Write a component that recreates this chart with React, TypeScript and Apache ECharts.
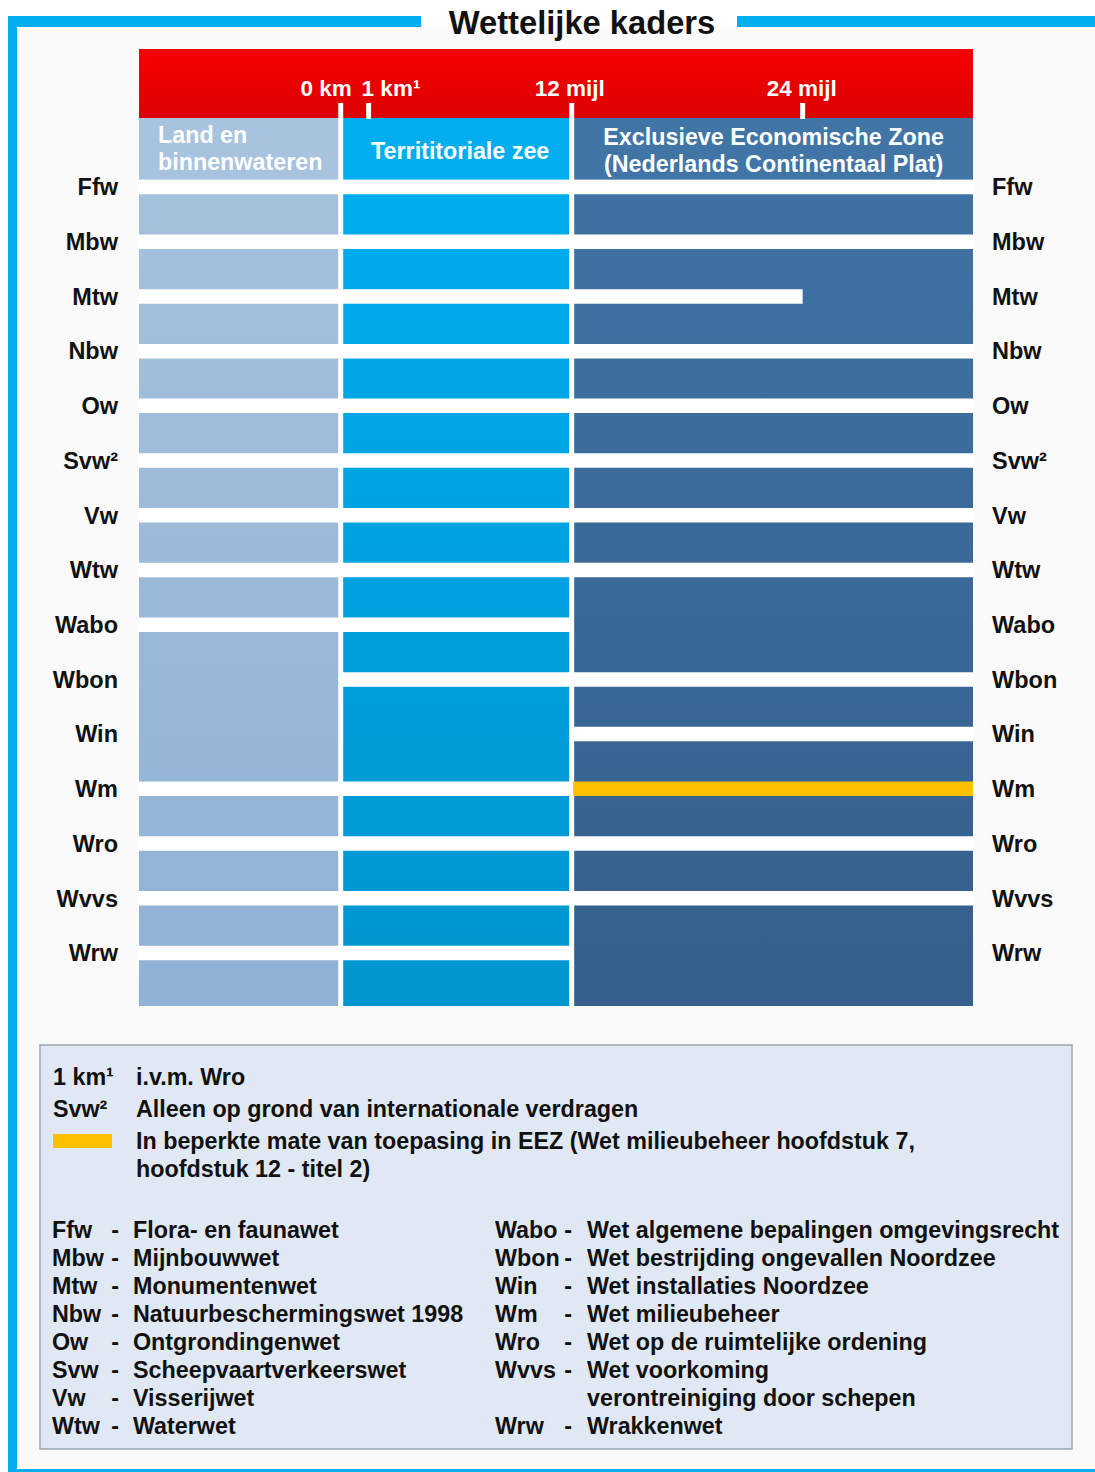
import React, { useEffect, useRef } from 'react';
import * as echarts from 'echarts';

// ---------- data ----------
const title = 'Wettelijke kaders';

const laws = ['Ffw', 'Mbw', 'Mtw', 'Nbw', 'Ow', 'Svw²', 'Vw', 'Wtw', 'Wabo', 'Wbon', 'Win', 'Wm', 'Wro', 'Wvvs', 'Wrw'];

const zoneNames = ['Land en\nbinnenwateren', 'Territitoriale zee', 'Exclusieve Economische Zone\n(Nederlands Continentaal Plat)'];
// schematic distance (nautical miles) of the zone limits
const zoneFrom = [-10.48, 0, 12];
const zoneTo = [0, 12, 32.85];

const markerLabels = ['0 km', '1 km¹', '12 mijl', '24 mijl'];
const markerValues = [0, 1.45, 12, 24];

// 1 = wet geldt in zone, 0 = niet
const appliesLand = [1, 1, 1, 1, 1, 1, 1, 1, 1, 0, 0, 1, 1, 1, 1];
const appliesSea = [1, 1, 1, 1, 1, 1, 1, 1, 1, 1, 0, 1, 1, 1, 1];
// EEZ: 'full', 'none', 'beperkt' or reach in mijl
const appliesEEZ: (number | string)[] = ['full', 'full', 24, 'full', 'full', 'full', 'full', 'full', 'none', 'full', 'full', 'beperkt', 'full', 'full', 'none'];

const noteKeys = ['1 km¹', 'Svw²', ''];
const noteTexts = ['i.v.m. Wro', 'Alleen op grond van internationale verdragen', 'In beperkte mate van toepasing in EEZ (Wet milieubeheer hoofdstuk 7,\nhoofdstuk 12 - titel 2)'];

const abbrLeft = ['Ffw', 'Mbw', 'Mtw', 'Nbw', 'Ow', 'Svw', 'Vw', 'Wtw'];
const nameLeft = ['Flora- en faunawet', 'Mijnbouwwet', 'Monumentenwet', 'Natuurbeschermingswet 1998', 'Ontgrondingenwet', 'Scheepvaartverkeerswet', 'Visserijwet', 'Waterwet'];
const abbrRight = ['Wabo', 'Wbon', 'Win', 'Wm', 'Wro', 'Wvvs', '', 'Wrw'];
const nameRight = ['Wet algemene bepalingen omgevingsrecht', 'Wet bestrijding ongevallen Noordzee', 'Wet installaties Noordzee', 'Wet milieubeheer', 'Wet op de ruimtelijke ordening', 'Wet voorkoming', 'verontreiniging door schepen', 'Wrakkenwet'];

// ---------- styles / layout ----------
const FONT = '"Liberation Sans", Arial, Helvetica, sans-serif';
const CYAN = '#00aeef';
const YELLOW = '#ffc000';
const zoneHeadColors = ['#a7c3de', '#00aeef', '#4175a6'];
const zoneTopColors = ['#a5c1dc', '#00adee', '#3f72a3'];
const zoneBottomColors = ['#91b2d5', '#0095cf', '#355f8c'];

const LABEL_SIZE = 23.5;
const HEAD_SIZE = 23.3;
const LEGEND_SIZE = 23.3;

const X_MIN = zoneFrom[0];
const X_MAX = zoneTo[2];
const Y_MIN = -2.523;
const Y_MAX = 14.97;
const HEAD_TOP = -1.262;
const HEAD_BOT = -0.1325;
const TICK_TOP = -1.536;
const LABEL_Y = -1.81;
const GAP_PX = 14.5;
const SEP_PX = 2.5;
const markerLabelStyle = [
  { align: 'right', dx: 11 },
  { align: 'left', dx: -7 },
  { align: 'center', dx: -2 },
  { align: 'center', dx: -1 },
];

// build data for the law gaps
const gapData: number[][] = [];
laws.forEach((_, i) => {
  if (appliesLand[i]) gapData.push([zoneFrom[0], zoneTo[0], i, 0]);
  if (appliesSea[i]) gapData.push([zoneFrom[1], zoneTo[1], i, 0]);
  const e = appliesEEZ[i];
  if (e === 'full') gapData.push([zoneFrom[2], zoneTo[2], i, 0]);
  else if (typeof e === 'number') gapData.push([zoneFrom[2], e, i, 0]);
  else if (e === 'beperkt') gapData.push([zoneFrom[2], zoneTo[2], i, 1]);
});

const txt = (text: string, x: number, y: number, size: number, extra: any = {}) => ({
  type: 'text',
  x,
  y,
  silent: true,
  style: {
    text,
    fill: '#111111',
    fontSize: size,
    fontWeight: 'bold',
    fontFamily: FONT,
    align: 'left',
    verticalAlign: 'middle',
    ...extra,
  },
});

function buildGraphic() {
  const els: any[] = [];
  // frame
  els.push({ type: 'rect', shape: { x: 0, y: 0, width: 8, height: 1472 }, style: { fill: '#ffffff' } });
  els.push({ type: 'rect', shape: { x: 8, y: 16, width: 413, height: 11 }, style: { fill: CYAN } });
  els.push({ type: 'rect', shape: { x: 737, y: 16, width: 358, height: 11 }, style: { fill: CYAN } });
  els.push({ type: 'rect', shape: { x: 8, y: 16, width: 9, height: 1456 }, style: { fill: CYAN } });
  els.push({ type: 'rect', shape: { x: 8, y: 1469, width: 1087, height: 3 }, style: { fill: CYAN } });
  els.push({ type: 'rect', shape: { x: 0, y: 0, width: 1095, height: 16 }, style: { fill: '#ffffff' } });
  els.push({ type: 'rect', shape: { x: 421, y: 16, width: 316, height: 11 }, style: { fill: '#ffffff' } });
  els.push(txt(title, 582, 22, 32.7, { align: 'center' }));

  // legend box
  els.push({ type: 'rect', shape: { x: 40, y: 1045, width: 1032, height: 404 }, style: { fill: '#dfe8f3', stroke: '#9ea6ae', lineWidth: 1.5 } });
  const noteY = [1077, 1109, 1141];
  noteKeys.forEach((k, i) => {
    if (k) els.push(txt(k, 53, noteY[i], LEGEND_SIZE));
    else els.push({ type: 'rect', shape: { x: 53, y: noteY[i] - 7, width: 59, height: 14 }, style: { fill: YELLOW } });
    noteTexts[i].split('\n').forEach((line, j) => {
      els.push(txt(line, 136, noteY[i] + j * 28, LEGEND_SIZE));
    });
  });
  abbrLeft.forEach((a, i) => {
    const y = 1230 + i * 28;
    els.push(txt(a, 52, y, LEGEND_SIZE));
    els.push(txt('-', 115, y, LEGEND_SIZE, { align: 'center' }));
    els.push(txt(nameLeft[i], 133, y, LEGEND_SIZE));
  });
  abbrRight.forEach((a, i) => {
    const y = 1230 + i * 28;
    if (a) {
      els.push(txt(a, 495, y, LEGEND_SIZE));
      els.push(txt('-', 568, y, LEGEND_SIZE, { align: 'center' }));
    }
    els.push(txt(nameRight[i], 587, y, LEGEND_SIZE));
  });
  return els;
}

const option: any = {
  animation: false,
  backgroundColor: '#fafafa',
  graphic: { elements: buildGraphic() },
  grid: [
    { left: 139, right: 122, top: 49, height: 957, show: true, backgroundColor: '#ffffff', borderWidth: 0 },
    { left: 139, right: 122, top: 160, height: 820.6, show: false },
  ],
  xAxis: [
    { type: 'value', gridIndex: 0, min: X_MIN, max: X_MAX, show: false },
    { type: 'value', gridIndex: 1, min: 0, max: 1, show: false },
  ],
  yAxis: [
    { type: 'value', gridIndex: 0, min: Y_MIN, max: Y_MAX, inverse: true, show: false },
    {
      type: 'category', gridIndex: 1, data: laws, inverse: true, position: 'left',
      axisLine: { show: false }, axisTick: { show: false }, splitLine: { show: false },
      axisLabel: { margin: 21, color: '#111111', fontSize: LABEL_SIZE, fontWeight: 'bold', fontFamily: FONT },
    },
    {
      type: 'category', gridIndex: 1, data: laws, inverse: true, position: 'right',
      axisLine: { show: false }, axisTick: { show: false }, splitLine: { show: false },
      axisLabel: { margin: 19, color: '#111111', fontSize: LABEL_SIZE, fontWeight: 'bold', fontFamily: FONT },
    },
  ],
  series: [
    {
      type: 'custom',
      name: 'band',
      xAxisIndex: 0,
      yAxisIndex: 0,
      z: 2,
      silent: true,
      data: [[X_MIN, X_MAX]],
      renderItem: (params: any, api: any) => {
        const a = api.coord([api.value(0), Y_MIN]);
        const b = api.coord([api.value(1), HEAD_TOP]);
        return {
          type: 'rect',
          shape: { x: a[0], y: a[1], width: b[0] - a[0], height: b[1] - a[1] },
          style: {
            fill: new echarts.graphic.LinearGradient(0, 0, 0, 1, [
              { offset: 0, color: '#f70000' },
              { offset: 1, color: '#dc0000' },
            ]),
          },
        };
      },
    },
    {
      type: 'custom',
      name: 'zones',
      xAxisIndex: 0,
      yAxisIndex: 0,
      z: 2,
      silent: true,
      data: zoneFrom.map((f, i) => [f, zoneTo[i]]),
      renderItem: (params: any, api: any) => {
        const i = params.dataIndex;
        const x0 = api.coord([api.value(0), 0])[0] + (i > 0 ? SEP_PX : 0);
        const x1 = api.coord([api.value(1), 0])[0] - (i < zoneFrom.length - 1 ? SEP_PX : 0);
        const yT = api.coord([0, HEAD_TOP])[1];
        const yH = api.coord([0, HEAD_BOT])[1];
        const yB = api.coord([0, Y_MAX])[1];
        return {
          type: 'group',
          children: [
            { type: 'rect', shape: { x: x0, y: yT, width: x1 - x0, height: yH - yT }, style: { fill: zoneHeadColors[i] } },
            {
              type: 'rect',
              shape: { x: x0, y: yH, width: x1 - x0, height: yB - yH },
              style: {
                fill: new echarts.graphic.LinearGradient(0, 0, 0, 1, [
                  { offset: 0, color: zoneTopColors[i] },
                  { offset: 1, color: zoneBottomColors[i] },
                ]),
              },
            },
            {
              type: 'text',
              style: {
                text: zoneNames[i],
                x: i === 0 ? x0 + 19 : (x0 + x1) / 2 + (i === 1 ? 4 : 0),
                y: (yT + yH) / 2 + (i === 0 ? 0 : 2),
                align: i === 0 ? 'left' : 'center',
                verticalAlign: 'middle',
                fill: '#ffffff',
                fontSize: HEAD_SIZE,
                fontWeight: 'bold',
                fontFamily: FONT,
                lineHeight: 27,
              },
            },
          ],
        };
      },
    },
    {
      type: 'custom',
      name: 'wetten',
      xAxisIndex: 0,
      yAxisIndex: 0,
      z: 3,
      silent: true,
      data: gapData,
      renderItem: (params: any, api: any) => {
        const a = api.coord([api.value(0), api.value(2)]);
        const b = api.coord([api.value(1), api.value(2)]);
        const kind = api.value(3);
        if (kind === 1) {
          return {
            type: 'rect',
            shape: { x: a[0] + SEP_PX - 1, y: a[1] - GAP_PX / 2, width: b[0] - a[0] - SEP_PX + 1, height: GAP_PX },
            style: { fill: YELLOW },
          };
        }
        return {
          type: 'rect',
          shape: { x: a[0], y: a[1] - GAP_PX / 2, width: b[0] - a[0], height: GAP_PX },
          style: { fill: '#ffffff' },
        };
      },
    },
    {
      type: 'custom',
      name: 'afstanden',
      xAxisIndex: 0,
      yAxisIndex: 0,
      z: 4,
      silent: true,
      data: markerValues.map((v, i) => [v, i]),
      renderItem: (params: any, api: any) => {
        const i = params.dataIndex;
        const t = api.coord([api.value(0), TICK_TOP]);
        const h = api.coord([api.value(0), HEAD_TOP]);
        const l = api.coord([api.value(0), LABEL_Y]);
        const st = markerLabelStyle[i];
        return {
          type: 'group',
          children: [
            { type: 'rect', shape: { x: t[0] - 2.5, y: t[1], width: 5, height: h[1] - t[1] + 1 }, style: { fill: '#ffffff' } },
            {
              type: 'text',
              style: {
                text: markerLabels[i],
                x: l[0] + st.dx,
                y: l[1],
                align: st.align,
                verticalAlign: 'middle',
                fill: '#ffffff',
                fontSize: 22.5,
                fontWeight: 'bold',
                fontFamily: FONT,
              },
            },
          ],
        };
      },
    },
  ],
};

export default function App() {
  const ref = useRef<HTMLDivElement>(null);
  useEffect(() => {
    document.body.style.margin = '0';
    document.body.style.overflow = 'hidden';
    const chart = echarts.init(ref.current as HTMLDivElement, null, { renderer: 'svg' });
    chart.setOption(option);
    return () => chart.dispose();
  }, []);
  return <div ref={ref} style={{ position: 'absolute', left: 0, top: 0, width: 1095, height: 1472 }} />;
}
